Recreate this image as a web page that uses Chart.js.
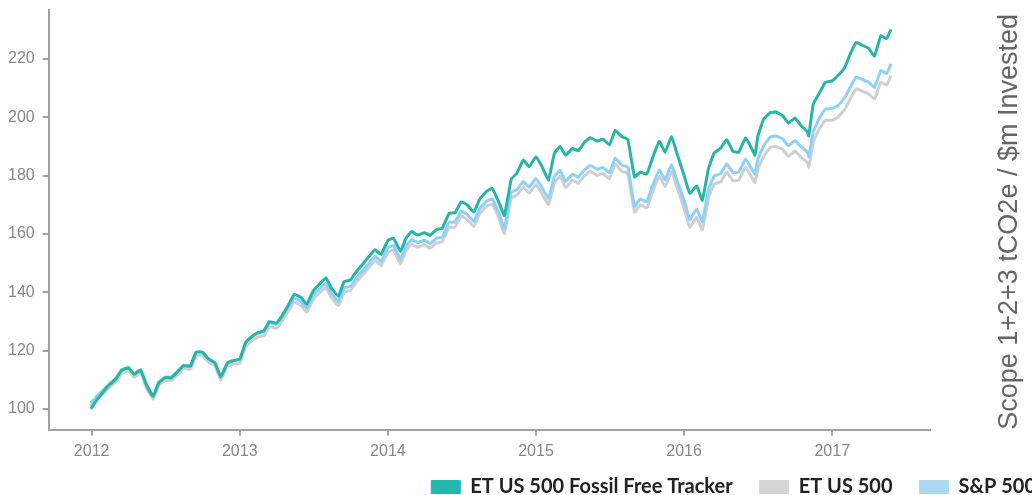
<!DOCTYPE html>
<html>
<head>
<meta charset="utf-8">
<script src="https://cdn.jsdelivr.net/npm/chart.js@4.4.0/dist/chart.umd.min.js"></script>
<style>
  html, body { margin: 0; padding: 0; background: #fff; overflow: hidden; }
  #wrap { position: relative; width: 1063px; height: 495px; }
</style>
</head>
<body>
<div id="wrap"><canvas id="chart"></canvas></div>
<script>
// Date (chiusure circa ogni 15 giorni, piu' qualche minimo)
const dates = [
  '2011-12-30','2012-01-15','2012-02-01','2012-02-15','2012-03-01','2012-03-15','2012-04-01','2012-04-15','2012-05-01','2012-05-15','2012-06-01','2012-06-15',
  '2012-07-01','2012-07-15','2012-08-01','2012-08-15','2012-09-01','2012-09-15','2012-10-01','2012-10-15','2012-11-01','2012-11-15','2012-12-01','2012-12-15',
  '2013-01-01','2013-01-15','2013-02-01','2013-02-15','2013-03-01','2013-03-15','2013-04-01','2013-04-15','2013-05-01','2013-05-15','2013-06-01','2013-06-15',
  '2013-07-01','2013-07-15','2013-08-01','2013-08-15','2013-09-01','2013-09-15','2013-10-01','2013-10-15','2013-11-01','2013-11-15','2013-12-01','2013-12-15',
  '2014-01-01','2014-01-15','2014-02-01','2014-02-15','2014-03-01','2014-03-15','2014-04-01','2014-04-15','2014-05-01','2014-05-15','2014-06-01','2014-06-15',
  '2014-07-01','2014-07-15','2014-08-01','2014-08-15','2014-09-01','2014-09-15','2014-10-01','2014-10-15','2014-11-01','2014-11-15','2014-12-01','2014-12-15',
  '2015-01-01','2015-01-15','2015-02-01','2015-02-15','2015-03-01','2015-03-15','2015-04-01','2015-04-15','2015-05-01','2015-05-15','2015-06-01','2015-06-15',
  '2015-07-01','2015-07-15','2015-08-01','2015-08-15','2015-09-01','2015-09-15','2015-10-01','2015-10-15','2015-11-01','2015-11-15','2015-12-01','2015-12-15',
  '2016-01-01','2016-01-15','2016-02-01','2016-02-15','2016-03-01','2016-03-15','2016-04-01','2016-04-15','2016-05-01','2016-05-15','2016-06-01','2016-06-15','2016-06-24',
  '2016-07-01','2016-07-15','2016-08-01','2016-08-15','2016-09-01','2016-09-15','2016-10-01','2016-10-15','2016-11-01','2016-11-04','2016-11-15','2016-12-01','2016-12-15',
  '2017-01-01','2017-01-15','2017-02-01','2017-02-15','2017-03-01','2017-03-15','2017-04-01','2017-04-15','2017-05-01','2017-05-15','2017-05-26'
];

const fossilFree = [
  100.0, 103.3, 106.2, 108.4, 110.3, 113.2, 114.0, 111.8, 113.3, 108.3, 104.2, 109.0,
  110.7, 110.6, 112.8, 114.8, 114.6, 119.4, 119.4, 117.2, 115.7, 110.9, 115.6, 116.5,
  117.0, 122.6, 124.9, 126.2, 126.7, 129.9, 129.4, 131.9, 135.7, 139.2, 138.2, 135.8,
  140.5, 142.6, 145.0, 141.4, 138.6, 143.6, 144.2, 147.0, 149.8, 152.2, 154.6, 152.9,
  157.8, 158.5, 154.0, 158.6, 160.8, 159.6, 160.4, 159.5, 161.5, 161.9, 167.1, 167.2,
  171.0, 170.0, 167.5, 171.9, 174.6, 175.6, 171.0, 166.3, 178.8, 180.8, 185.4, 183.0,
  186.5, 183.3, 178.5, 187.5, 190.0, 187.0, 189.3, 188.5, 191.5, 193.0, 191.8, 192.5,
  190.5, 195.5, 193.3, 192.5, 179.5, 181.2, 180.5, 186.0, 191.8, 188.0, 193.4, 187.3,
  180.0, 173.9, 176.5, 171.5, 182.3, 187.7, 189.5, 192.4, 188.3, 188.0, 192.9, 189.6, 187.0,
  193.4, 199.2, 201.6, 201.8, 200.5, 198.0, 199.8, 197.3, 195.0, 193.6, 204.5, 208.5, 212.0,
  212.5, 214.3, 217.2, 221.9, 225.7, 224.8, 223.6, 221.0, 228.0, 227.0, 230.1
];

const etUs500 = [
  100.8, 103.3, 105.6, 107.5, 109.3, 112.2, 113.0, 110.8, 112.3, 107.3, 103.3, 108.0,
  109.7, 109.6, 111.8, 113.8, 113.6, 118.3, 118.3, 116.1, 114.6, 109.8, 114.5, 115.3,
  115.6, 121.1, 123.4, 124.6, 125.1, 128.2, 127.6, 130.1, 133.7, 136.6, 135.4, 133.1,
  137.6, 139.6, 141.6, 138.1, 135.4, 140.1, 140.6, 143.4, 146.1, 148.4, 150.9, 149.1,
  153.7, 154.4, 149.7, 154.4, 156.4, 155.4, 156.2, 155.1, 156.9, 157.3, 162.3, 162.3,
  166.1, 165.0, 162.5, 166.9, 169.5, 170.2, 165.7, 160.1, 172.4, 173.3, 176.0, 174.0,
  176.9, 173.9, 170.1, 177.4, 179.7, 175.9, 178.4, 177.4, 179.9, 181.4, 180.1, 180.7,
  178.9, 183.9, 181.4, 180.9, 167.4, 169.9, 168.9, 174.3, 179.7, 176.2, 181.5, 175.7,
  168.7, 162.2, 165.7, 161.4, 172.2, 177.0, 178.0, 181.2, 178.2, 178.4, 182.9, 179.7, 177.6,
  182.0, 186.4, 189.7, 190.0, 188.9, 186.6, 188.4, 186.4, 184.4, 182.9, 191.4, 196.3, 199.0,
  199.0, 200.0, 202.8, 206.5, 209.8, 209.0, 208.0, 206.2, 212.0, 211.0, 214.3
];

const sp500 = [
  102.0, 104.5, 106.8, 108.7, 110.5, 113.4, 114.2, 112.0, 113.5, 108.5, 104.5, 109.2,
  110.9, 110.8, 113.0, 115.0, 114.8, 119.5, 119.5, 117.3, 115.8, 111.0, 115.7, 116.5,
  117.0, 122.5, 124.8, 126.0, 126.5, 129.6, 129.0, 131.5, 135.1, 138.0, 136.8, 134.5,
  139.0, 141.0, 143.0, 139.5, 136.8, 141.5, 142.0, 144.8, 147.5, 149.8, 152.3, 150.5,
  155.3, 156.0, 151.3, 156.0, 158.0, 157.0, 157.8, 156.7, 158.5, 158.9, 164.0, 164.0,
  167.8, 166.7, 164.2, 168.6, 171.2, 172.0, 167.5, 161.9, 174.2, 175.2, 178.0, 176.0,
  179.0, 176.0, 172.2, 179.5, 181.8, 178.0, 180.5, 179.5, 182.0, 183.5, 182.2, 182.8,
  181.0, 186.0, 183.5, 183.0, 169.5, 172.0, 171.0, 176.5, 182.0, 178.5, 183.8, 178.0,
  171.5, 165.0, 168.5, 164.2, 175.0, 179.8, 180.8, 184.0, 181.0, 181.2, 185.7, 182.5, 180.5,
  185.5, 190.0, 193.3, 193.6, 192.5, 190.2, 192.0, 190.0, 188.0, 186.5, 195.0, 200.0, 202.8,
  203.0, 204.0, 206.8, 210.5, 213.8, 213.0, 212.0, 210.2, 216.0, 215.0, 218.3
];

const seriesNames = ['ET US 500 Fossil Free Tracker', 'ET US 500', 'S&P 500'];
const yTicks = [100, 120, 140, 160, 180, 200, 220];
const xTicks = [2012, 2013, 2014, 2015, 2016, 2017];
const sideTitle = 'Scope 1+2+3 tCO2e / $m Invested';

const lineColors = ['#26b5a7', '#cfcfcf', '#8dd1fb'];
const swatchColors = ['#20b8ab', '#d5d5d5', '#acd8f1'];
const axisColor = '#a0a0a0';

// data -> anno decimale
function toYear(d) {
    const [y, m, day] = d.split('-').map(Number);
    const start = Date.UTC(y, 0, 1), end = Date.UTC(y + 1, 0, 1);
    return y + (Date.UTC(y, m - 1, day) - start) / (end - start);
}

function points(values) {
    return dates.map((d, i) => ({ x: toYear(d), y: values[i] }));
}

// titolo verticale a destra (letto dal basso verso l'alto)
const sideTitlePlugin = {
    id: 'sideTitle',
    afterDraw(chart) {
        const ctx = chart.ctx;
        const a = chart.chartArea;
        ctx.save();
        ctx.translate(a.right + 80, (a.top + a.bottom) / 2 + 2);
        ctx.rotate(-Math.PI / 2);
        ctx.font = '27px "Liberation Sans", Arial, sans-serif';
        ctx.fillStyle = '#666';
        ctx.textAlign = 'center';
        ctx.textBaseline = 'middle';
        ctx.fillText(sideTitle, 0, 0);
        ctx.restore();
    }
};

// legenda bassa: altezza fissa, poi spostata un po' in su (solo il top, il clip resta)
const legendFitPlugin = {
    id: 'legendFit',
    beforeInit(chart) {
        const fit = chart.legend.fit;
        chart.legend.fit = function () {
            fit.call(this);
            this.height = 28;
        };
    },
    afterLayout(chart) {
        chart.legend.top -= 17;
    }
};

const seriesData = [fossilFree, etUs500, sp500];
const drawOrder = [0, 2, 1];

const tickFont = { family: '"Liberation Sans", Arial, sans-serif', size: 16 };

new Chart(document.getElementById('chart').getContext('2d'), {
    type: 'line',
    data: {
        datasets: seriesNames.map((name, i) => ({
            label: name,
            data: points(seriesData[i]),
            borderColor: lineColors[i],
            backgroundColor: swatchColors[i],
            borderWidth: 3,
            pointRadius: 0,
            tension: 0.1,
            borderJoinStyle: 'round',
            fill: false,
            order: drawOrder[i]
        }))
    },
    options: {
        responsive: true,
        maintainAspectRatio: false,
        animation: false,
        layout: { padding: { left: 0, top: 10, right: 0, bottom: 0 } },
        scales: {
            x: {
                type: 'linear',
                min: 2011.71,
                max: 2017.66,
                afterBuildTicks: s => { s.ticks = xTicks.map(v => ({ value: v })); },
                ticks: { color: '#888', font: tickFont, padding: 6, callback: v => String(v) },
                grid: { display: true, drawOnChartArea: false, drawTicks: true, tickLength: 6, color: axisColor, lineWidth: 2 },
                border: { display: true, color: axisColor, width: 2 }
            },
            y: {
                min: 92.8,
                max: 236.8,
                afterBuildTicks: s => { s.ticks = yTicks.map(v => ({ value: v })); },
                afterFit: s => { s.paddingTop = 0; s.paddingBottom = 0; },
                ticks: { color: '#888', font: tickFont, padding: 8 },
                grid: { display: true, drawOnChartArea: false, drawTicks: true, tickLength: 6, color: axisColor, lineWidth: 2 },
                border: { display: true, color: axisColor, width: 2 }
            },
            yRight: {
                position: 'right',
                display: true,
                ticks: { display: false },
                grid: { display: false },
                border: { display: false },
                afterFit: s => { s.width = 133; }
            }
        },
        plugins: {
            legend: {
                position: 'bottom',
                align: 'end',
                labels: {
                    boxWidth: 29,
                    boxHeight: 13,
                    padding: 27,
                    color: '#222',
                    font: { family: 'Lato', size: 20, weight: 'bold' },
                    sort: (a, b) => a.datasetIndex - b.datasetIndex,
                    generateLabels(chart) {
                        const items = Chart.defaults.plugins.legend.labels.generateLabels(chart);
                        items.forEach(it => {
                            it.fillStyle = swatchColors[it.datasetIndex];
                            it.strokeStyle = swatchColors[it.datasetIndex];
                            it.lineWidth = 1;
                        });
                        return items;
                    }
                }
            },
            tooltip: { enabled: false }
        }
    },
    plugins: [sideTitlePlugin, legendFitPlugin]
});
</script>
</body>
</html>
